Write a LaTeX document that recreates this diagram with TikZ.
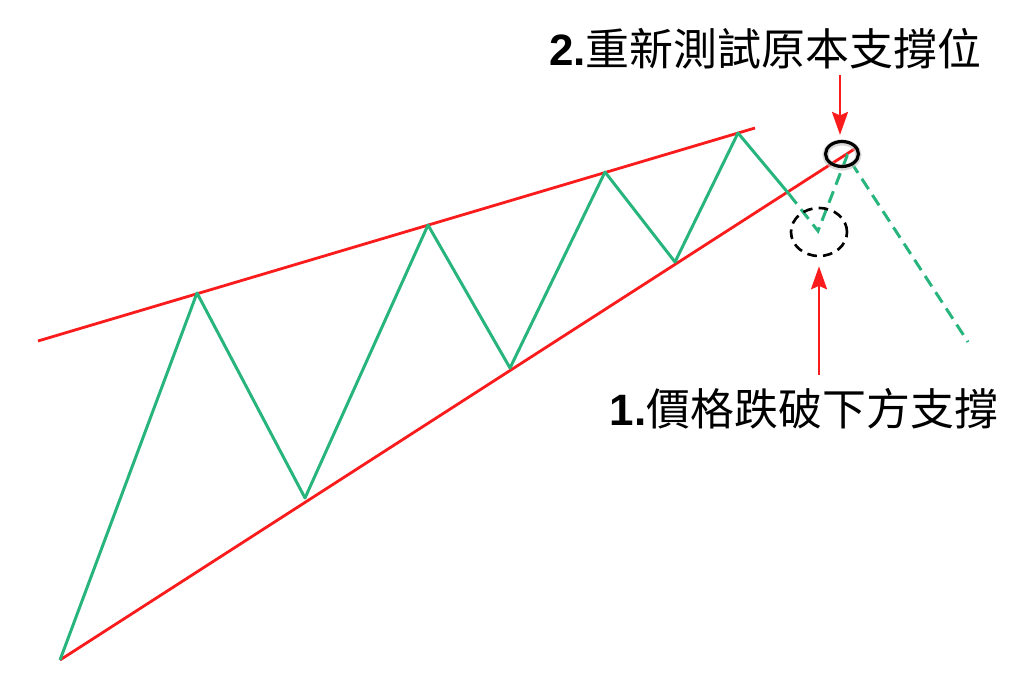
\documentclass[tikz,border=0pt]{standalone}
\usepackage{fontspec}
\usepackage{tikz}
\usetikzlibrary{arrows.meta, shapes.geometric}
\newfontfamily\cjkfont{Noto Sans CJK TC}
\newfontfamily\numfont{Liberation Sans}
\definecolor{wedgered}{RGB}{250, 28, 28}
\definecolor{wavegreen}{RGB}{40, 180, 125}
\tikzset{
	redline/.style = {wedgered, line width = 1.6pt},
	greenline/.style = {wavegreen, line width = 1.7pt, line join = round},
	greendash/.style = {wavegreen, line width = 1.7pt, dash pattern = on 7pt off 4pt},
	redarrow/.style = {wedgered, line width = 1.5pt, -{Stealth[length = 4.6mm, width = 3.2mm, inset = 0.7mm]}},
	label/.style = {inner sep = 0pt, font = \fontsize{25}{30}\selectfont}
}

\begin{document}
\begin{tikzpicture}[x = 0.02 cm, y = -0.02 cm]
	 \useasboundingbox (0, 0) rectangle (1024, 679);
	 
	 % wedge lines
	 \draw[redline] (38, 341) -- (755, 128);
	 \draw[redline] (60, 660) -- (856, 148);
	 
	 % price swings
	 \draw[greenline] (60, 660) -- (197, 293) -- (305, 498) -- (428, 225) -- (510, 368) -- (605, 172) -- (675, 262) -- (738, 133) -- (789, 194);
	 \draw[greendash] (789, 194) -- (818, 231) -- (847, 156) -- (968, 342);
	 
	 % marks
	 \node[draw, ellipse, gray!50, opacity = 0.6, line width = 3.5pt, minimum width = 0.66 cm, minimum height = 0.5 cm] at (842, 155) {};
	 \node[draw, ellipse, black, line width = 1.8pt, minimum width = 0.66 cm, minimum height = 0.5 cm] (retest) at (842, 154) {};
	 \node[draw, ellipse, black, line width = 1.5pt, dash pattern = on 5.5pt off 3.5pt, minimum width = 1.12 cm, minimum height = 0.96 cm] (breakdown) at (819, 232) {};
	 
	 % labels
	 \node[label] (retestlabel) at (765, 49) {{\numfont\bfseries 2.}{\cjkfont 重新測試原本支撐位}};
	 \node[label] (breaklabel) at (804, 409) {{\numfont\bfseries 1.}{\cjkfont 價格跌破下方支撐}};
	 
	 \coordinate (retesttail) at (840, 75);
	 \coordinate (breaktail) at (819, 375);
	 \draw[redarrow, shorten > = 0.1 cm] (retesttail) -- (retesttail |- retest.north);
	 \draw[redarrow, shorten > = 0.18 cm] (breaktail) -- (breakdown.south);
\end{tikzpicture}
\end{document}
